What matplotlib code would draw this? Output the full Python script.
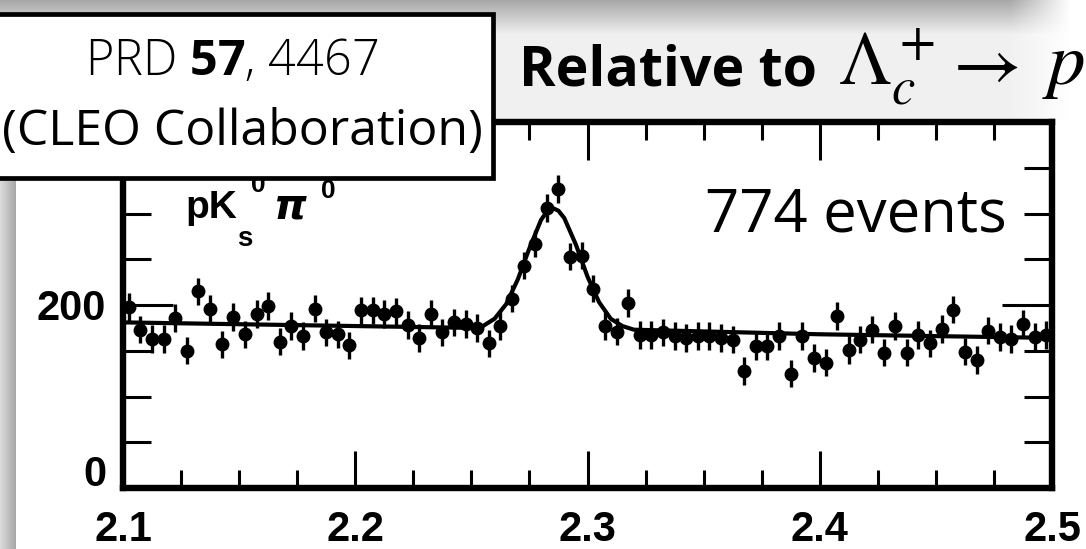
import numpy as np
import matplotlib
matplotlib.use("Agg")
import matplotlib.pyplot as plt
from matplotlib.patches import Rectangle
from matplotlib.ticker import MultipleLocator, FixedLocator, FixedFormatter


# pK_s pi0 invariant mass, 5 MeV bins from 2.10 to 2.50 GeV
mass_lo, mass_hi, n_bins = 2.10, 2.50, 80
counts = [198, 173, 163, 163, 186, 150, 215, 196, 157, 187,
          168, 190, 199, 160, 177, 166, 196, 170, 168, 156,
          194, 194, 190, 193, 178, 164, 190, 170, 181, 179,
          175, 158, 177, 207, 243, 267, 306, 327, 253, 254,
          218, 177, 171, 202, 167, 167, 170, 166, 164, 166,
          166, 164, 162, 128, 155, 155, 166, 125, 166, 142,
          137, 188, 151, 162, 173, 148, 177, 148, 167, 158,
          174, 195, 149, 140, 172, 165, 163, 179, 165, 167]
err_bar = 15

# fit curve
fit_x = [2.100, 2.200, 2.250, 2.255, 2.260, 2.265, 2.270, 2.275, 2.280, 2.2825,
         2.285, 2.2875, 2.290, 2.295, 2.300, 2.305, 2.310, 2.315, 2.320, 2.400, 2.500]
fit_y = [181, 177, 175, 177, 185, 201, 228, 262, 293, 302,
         306, 303, 295, 266, 231, 203, 185, 177, 173, 168, 164]

x_ticks = [2.1, 2.2, 2.3, 2.4, 2.5]
y_ticks = [0, 200, 400]
y_tick_labels = ["", "200", ""]

W, H = 1086, 549
TICK_FONT = dict(family=["Liberation Sans", "DejaVu Sans"], weight="bold", size=30)


def background(fig):
    # slide shading: grey strip on the left and title band on top
    img = np.ones((H, W))
    rows = np.arange(H)[:, None]
    cols = np.arange(W)[None, :]
    band = np.where(rows < 34, 0.66 + 0.28 * rows / 34, 0.945)
    band = band + (1 - band) * np.clip((cols - 1010) / 60, 0, 1)
    img = np.where(rows < 120, band, img)
    strip = 0.86 - 0.20 * cols / 15
    img = np.where((cols < 16) & (rows >= 120), strip, img)
    bg = fig.add_axes([0, 0, 1, 1], zorder=-10)
    bg.imshow(np.dstack([img] * 3), aspect="auto", interpolation="bilinear")
    bg.axis("off")


def px(x, y):
    return x / W, 1 - y / H


def main():
    fig = plt.figure(figsize=(W / 100, H / 100), dpi=100)
    background(fig)

    ax = fig.add_axes([123 / W, 1 - 488 / H, 929 / W, 366 / H])
    ax.patch.set_alpha(0)
    centers = np.linspace(mass_lo + 0.0025, mass_hi - 0.0025, n_bins)
    ax.errorbar(centers, counts, yerr=err_bar, fmt="o", color="black",
                markersize=9, elinewidth=2.4, capsize=0, clip_on=False, zorder=3)
    ax.plot(fit_x, fit_y, color="black", lw=3, zorder=2)

    ax.set_xlim(mass_lo, mass_hi)
    ax.set_ylim(0, 400)
    for sp in ax.spines.values():
        sp.set_linewidth(4.6)
    ax.xaxis.set_major_locator(FixedLocator(x_ticks))
    ax.xaxis.set_minor_locator(MultipleLocator(0.025))
    ax.set_xticklabels([f"{v:.1f}" for v in x_ticks])
    ax.yaxis.set_major_locator(FixedLocator(y_ticks))
    ax.yaxis.set_major_formatter(FixedFormatter(y_tick_labels))
    ax.yaxis.set_minor_locator(MultipleLocator(50))
    ax.tick_params(which="both", direction="in", top=True, right=True, width=2.2)
    ax.tick_params(axis="x", which="major", length=27, pad=16)
    ax.tick_params(axis="x", which="minor", length=13)
    ax.tick_params(axis="y", which="major", length=36, pad=12)
    ax.tick_params(axis="y", which="minor", length=20)
    for lbl in ax.get_xticklabels() + ax.get_yticklabels():
        lbl.set(**TICK_FONT)
    ax.annotate("0", xy=(0, 0), xycoords=("axes fraction", "data"),
                xytext=(-12, 9), textcoords="offset points", ha="right", va="center",
                **TICK_FONT)

    # channel label pK_s^0 pi^0, built from pieces like the scanned figure
    lab = dict(family=["Liberation Sans", "DejaVu Sans"], weight="bold", va="baseline")
    fig.text(*px(185, 218), "pK", size=28, **lab)
    fig.text(*px(251, 192), "0", size=19, **lab)
    fig.text(*px(237, 246), "s", size=20, **lab)
    fig.text(*px(274, 218), "\u03c0", size=30, style="italic",
             family=["DejaVu Sans"], weight="bold", va="baseline")
    fig.text(*px(321, 198), "0", size=19, **lab)

    # slide annotations
    plt.rcParams["mathtext.bf"] = "Open Sans:bold"
    plt.rcParams["mathtext.rm"] = "Open Sans"
    fig.text(*px(1007, 231), "774 events", family="Open Sans", weight=500,
             fontsize=43, ha="right", va="baseline")
    fig.add_artist(Rectangle((-0.01, 1 - 178 / H), 0.01 + 493 / W, 164 / H,
                             transform=fig.transFigure, facecolor="white",
                             edgecolor="black", lw=3.4, zorder=5))
    fig.text(*px(232, 62), r"PRD $\mathbf{57}$, 4467", family="Open Sans",
             fontweight="light", fontsize=35, ha="center", va="center",
             math_fontfamily="custom", zorder=6)
    fig.text(*px(242, 132), "(CLEO Collaboration)", family="Open Sans", weight=500,
             fontsize=36, ha="center", va="center", zorder=6)
    fig.text(*px(519, 85), "Relative to", family="Open Sans",
             fontweight="bold", fontsize=40, va="baseline", zorder=6)
    title_math = dict(fontsize=54, math_fontfamily="stix", va="baseline", zorder=6)
    fig.text(*px(838, 85), r"$\Lambda_c^+$", **title_math)
    fig.text(*px(942, 85), r"$\rightarrow$", **title_math)
    fig.text(*px(1042, 85), r"$pK^-\pi^+$", **title_math)

    fig.savefig("out.png", dpi=100)


if __name__ == "__main__":
    main()
